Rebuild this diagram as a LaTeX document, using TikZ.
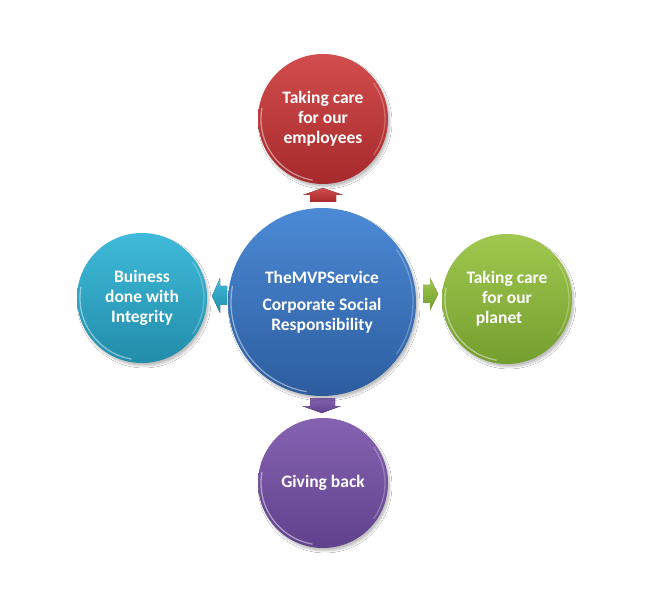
\documentclass[tikz,border=0pt]{standalone}
\usepackage{fontspec}
\setmainfont{Carlito}
\usetikzlibrary{shadows.blur,calc}
\definecolor{bluetop}{HTML}{4C8AD6}
\definecolor{bluebot}{HTML}{2C5C9E}
\definecolor{redtop}{HTML}{D24D4D}
\definecolor{redbot}{HTML}{A6292C}
\definecolor{greentop}{HTML}{A0C850}
\definecolor{greenbot}{HTML}{749E2E}
\definecolor{cyantop}{HTML}{40BADA}
\definecolor{cyanbot}{HTML}{218DAA}
\definecolor{purptop}{HTML}{8663B2}
\definecolor{purpbot}{HTML}{60418C}
\tikzset{
  ball/.style n args={3}{circle, minimum size=#1, inner sep=0pt,
    top color=#2, bottom color=#3, draw=none, text=white,
    font=\bfseries\fontsize{17.5}{20}\selectfont, align=center,
    blur shadow={shadow xshift=2pt, shadow yshift=-3pt, shadow blur steps=6, shadow opacity=25}},
  rim/.style={white, opacity=0.45, line width=1.3pt, line cap=round},
  blockarrow/.style n args={2}{top color=#1, bottom color=#2, draw=none}
}
\begin{document}
\begin{tikzpicture}[x=1pt,y=1pt]
\useasboundingbox (0,0) rectangle (655,608);
\fill[white] (0,0) rectangle (655,608);

% arrows
\fill[blockarrow={redtop}{redbot}] (310,406) -- (336,406) -- (336,413) -- (343,413) -- (323,420) -- (303,413) -- (310,413) -- cycle;
\fill[blockarrow={purptop}{purpbot}] (310,210) -- (335,210) -- (335,202) -- (341,202) -- (322,195) -- (302,202) -- (310,202) -- cycle;
\fill[blockarrow={greentop}{greenbot}] (423,323) -- (430,323) -- (430,330) -- (438,314) -- (430,298) -- (430,305) -- (423,305) -- cycle;
\fill[blockarrow={cyantop}{cyanbot}] (227,322) -- (220,322) -- (220,330) -- (212,312) -- (220,295) -- (220,303) -- (227,303) -- cycle;

% circles
\node[ball={188pt}{bluetop}{bluebot}] (c) at (322,306) {TheMVPService\\[7pt]Corporate Social\\Responsibility};
\node[ball={130pt}{redtop}{redbot}] (t) at (323,489) {Taking care\\for our\\employees};
\node[ball={130pt}{greentop}{greenbot}] (r) at (507,309) {Taking care\\for our\\planet\hspace*{16pt}};
\node[ball={130pt}{cyantop}{cyanbot}] (l) at (142,310) {Buiness\\done with\\Integrity};
\node[ball={130pt}{purptop}{purpbot}] (b) at (323,125) {Giving back};

% rim highlights
\foreach \n/\r in {c/91, t/62, r/62, l/62, b/62}{
  \draw[rim] ($(\n.center)+(170:\r pt)$) arc[start angle=170, end angle=260, radius=\r pt];
  \draw[rim, opacity=0.25] ($(\n.center)+(-35:\r pt)$) arc[start angle=-35, end angle=35, radius=\r pt];
}
\end{tikzpicture}
\end{document}
